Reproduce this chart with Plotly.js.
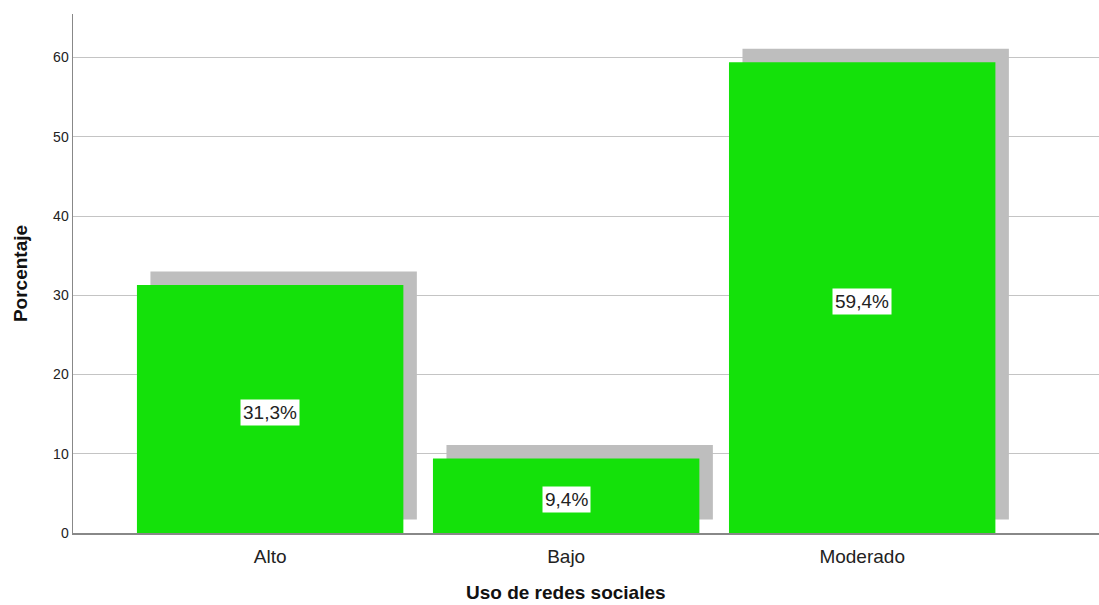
<!DOCTYPE html>
<html>
<head>
<meta charset="utf-8">
<script src="https://cdn.plot.ly/plotly-3.0.1.min.js"></script>
<style>html,body{margin:0;padding:0;background:#fff;}#chart{width:1099px;height:605px;}</style>
</head>
<body>
<div id="chart"></div>
<script>
const categories = ["Alto", "Bajo", "Moderado"];
const percentages = [31.3, 9.4, 59.4];
const labels = ["31,3%", "9,4%", "59,4%"];
const yTicks = [0, 10, 20, 30, 40, 50, 60];
const xTitle = "Uso de redes sociales";
const yTitle = "Porcentaje";

const shadowLift = 1.7;   // drop-shadow offset in value units
const shadowShift = 0.0456; // drop-shadow offset in category units

const shadow = {
  type: "bar",
  x: categories,
  y: percentages,
  base: percentages.map(() => shadowLift),
  width: 0.9,
  offset: -0.45 + shadowShift,
  marker: {color: "#BEBEBE", line: {width: 0}},
  hoverinfo: "skip",
  showlegend: false
};
const bars = {
  type: "bar",
  x: categories,
  y: percentages,
  width: 0.9,
  offset: -0.45,
  marker: {color: "#14E10A", line: {width: 0}},
  hoverinfo: "skip",
  showlegend: false
};

const annotations = categories.map((c, i) => ({
  x: c, y: percentages[i] / 2, xref: "x", yref: "y",
  yshift: -4,
  text: labels[i], showarrow: false,
  bgcolor: "#FFFFFF", borderpad: 2,
  font: {family: "Liberation Sans, Arial, sans-serif", size: 19, color: "#222"}
}));
annotations.push({
  x: 1, xref: "x", y: -0.114, yref: "paper",
  xanchor: "center", yanchor: "middle",
  text: "<b>" + xTitle + "</b>", showarrow: false,
  font: {family: "Liberation Sans, Arial, sans-serif", size: 19, color: "#111"}
});

const layout = {
  width: 1099, height: 605,
  margin: {l: 73, r: 0, t: 14, b: 72},
  paper_bgcolor: "#FFFFFF", plot_bgcolor: "#FFFFFF",
  barmode: "overlay",
  showlegend: false,
  hovermode: false,
  font: {family: "Liberation Sans, Arial, sans-serif", color: "#222"},
  xaxis: {
    type: "category",
    range: [-0.666, 2.80],
    showgrid: false, zeroline: false,
    showline: true, linecolor: "#888888", linewidth: 1.5,
    ticks: "",
    ticklabelstandoff: 6,
    tickfont: {size: 19, color: "#222"},
    automargin: false
  },
  yaxis: {
    range: [0, 65.5],
    tickvals: yTicks,
    showgrid: true, gridcolor: "#C4C4C4", gridwidth: 1,
    zeroline: false,
    showline: true, linecolor: "#888888", linewidth: 1.5,
    ticks: "",
    tickfont: {size: 14, color: "#222"},
    title: {text: "<b>" + yTitle + "</b>", font: {size: 19, color: "#111"}, standoff: 20},
    automargin: false
  },
  annotations: annotations
};

Plotly.newPlot("chart", [shadow, bars], layout, {displayModeBar: false, staticPlot: true});
</script>
</body>
</html>
